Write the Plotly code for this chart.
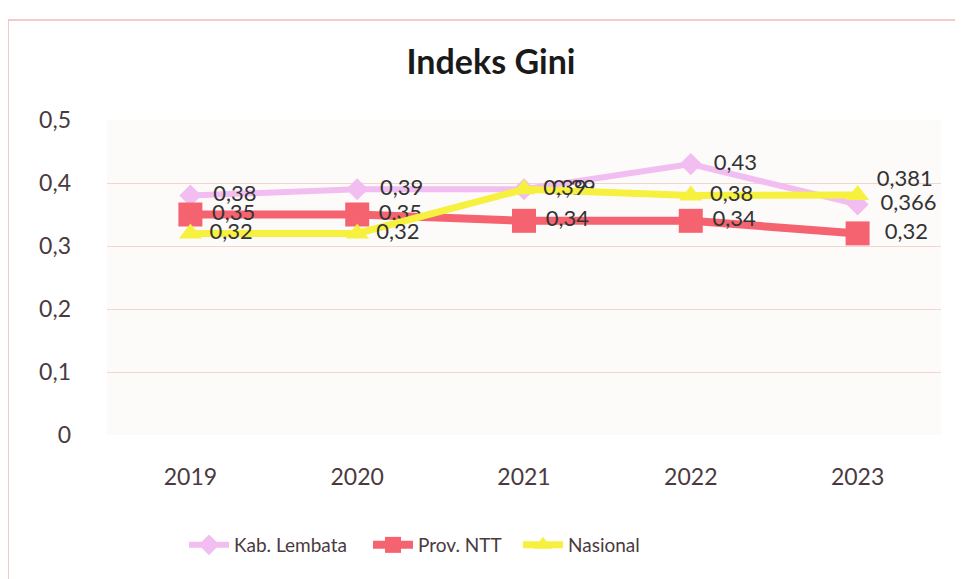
import plotly.graph_objects as go

years = ["2019", "2020", "2021", "2022", "2023"]
kab_lembata = [0.38, 0.39, 0.39, 0.43, 0.366]
prov_ntt = [0.35, 0.35, 0.34, 0.34, 0.32]
nasional = [0.32, 0.32, 0.39, 0.38, 0.381]
y_ticks = [0, 0.1, 0.2, 0.3, 0.4, 0.5]

def lab(vals):
    return [str(v).replace(".", ",") for v in vals]

label_font = dict(family="Lato", size=22, color="#333333")
OFF = 8  # page body margin offset
L, T, W, H = 99, 112, 834, 315

# label templates: leading spaces give the gap between marker and label
series = [
    dict(name="Kab. Lembata", y=kab_lembata, color="#f2bdf0", width=6,
         symbol="diamond", size=17, legend="legend", lx=188,
         tpl=["  %{text}", "  %{text}", "   %{text}", "  %{text}", "  %{text}"]),
    dict(name="Prov. NTT", y=prov_ntt, color="#f4636f", width=8,
         symbol="square", size=24, legend="legend2", lx=372,
         tpl=[" %{text}"] * 4 + ["  %{text}"]),
    dict(name="Nasional", y=nasional, color="#f6f03e", width=7,
         symbol="triangle-up", size=20, legend="legend3", lx=522,
         tpl=[" %{text}"] * 4 + [" %{text}<br> "]),
]

fig = go.Figure()
for s in series:
    fig.add_trace(go.Scatter(
        x=years, y=s["y"], name=s["name"], mode="lines+markers+text",
        line=dict(color=s["color"], width=s["width"]),
        marker=dict(symbol=s["symbol"], size=s["size"], color=s["color"]),
        text=lab(s["y"]), texttemplate=s["tpl"], textposition="middle right",
        textfont=label_font, cliponaxis=False,
        legend=s["legend"],
    ))

leg_common = dict(orientation="h", xanchor="left", yanchor="middle",
                  y=-(545 - 435) / H,
                  font=dict(family="Lato", size=19, color="#4a3a40"),
                  bgcolor="rgba(0,0,0,0)", itemwidth=40)

top_px = 20 - OFF
left_px = 8 - OFF

fig.update_layout(
    width=963, height=579,
    margin=dict(l=L, r=963 - L - W, t=T, b=579 - T - H),
    paper_bgcolor="white", plot_bgcolor="#fdfafa",
    separators=",.",
    title=dict(text="<b>Indeks Gini</b>", x=(491 - OFF) / 963, xref="container", xanchor="center",
               y=1 - (62 - OFF) / 579, yanchor="middle",
               font=dict(family="Lato", size=34, color="#1a1a1a")),
    showlegend=True,
    legend=dict(leg_common, x=(series[0]["lx"] - OFF - 4 - L) / W),
    legend2=dict(leg_common, x=(series[1]["lx"] - OFF - 4 - L) / W),
    legend3=dict(leg_common, x=(series[2]["lx"] - OFF - 4 - L) / W),
    shapes=[
        dict(type="line", xref="paper", yref="paper", x0=(left_px - L) / W, x1=(left_px - L) / W,
             y0=(T + H - top_px) / H, y1=-0.6, line=dict(color="#f2b8b8", width=1.5)),
        dict(type="line", xref="paper", yref="paper", x0=(left_px - L) / W, x1=1.1,
             y0=(T + H - top_px) / H, y1=(T + H - top_px) / H, line=dict(color="#f2b8b8", width=1.5)),
    ],
)
fig.update_xaxes(
    type="category", range=[-0.5, 4.5], showgrid=False, zeroline=False, showline=False,
    ticks="", tickfont=dict(family="Lato", size=23, color="#4a3a40"), ticklabelstandoff=26,
)
fig.update_yaxes(
    range=[0, 0.5], tickvals=y_ticks, showgrid=True, gridcolor="#f0d6cc", gridwidth=1,
    zeroline=False, showline=False, ticks="",
    tickfont=dict(family="Lato", size=23, color="#4a3a40"), ticklabelstandoff=35,
)

fig.write_html("out.html")
